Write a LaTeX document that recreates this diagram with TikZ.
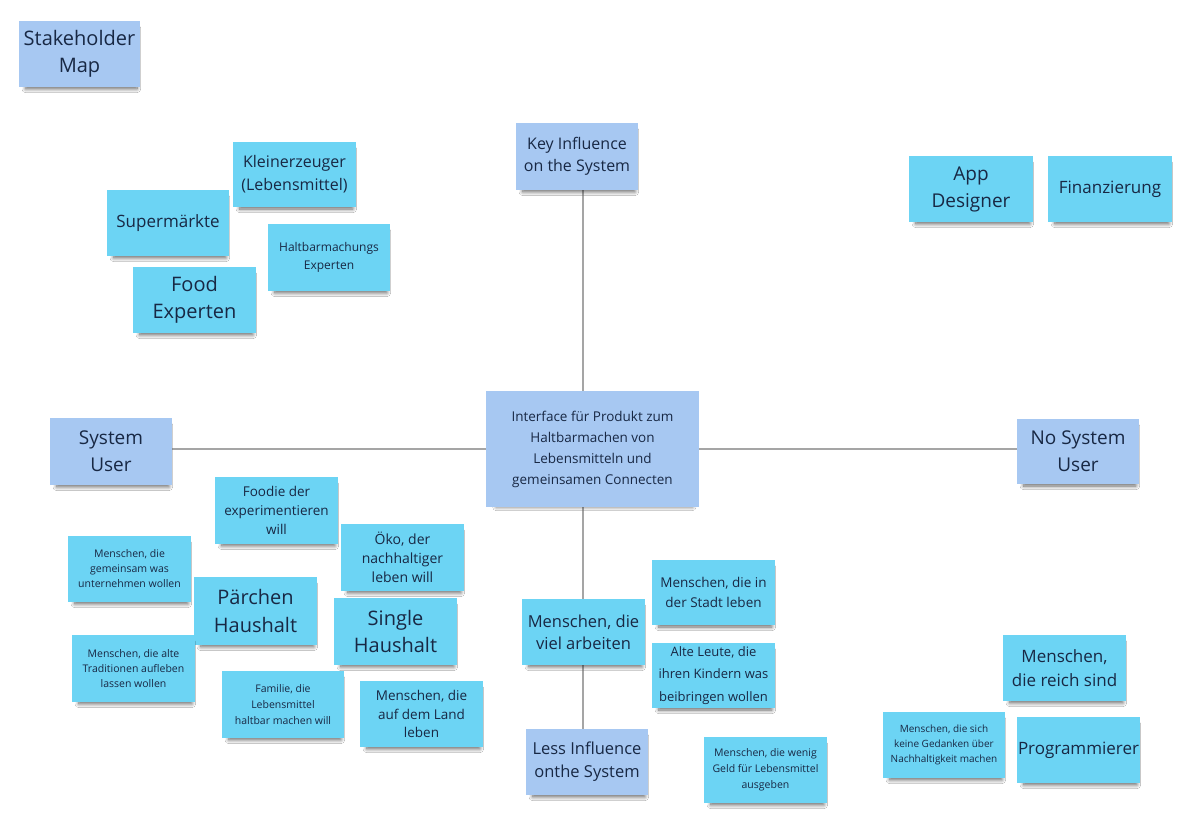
\documentclass[tikz,border=0pt]{standalone}
\usepackage{fontspec}
\setmainfont{Open Sans}
\usetikzlibrary{shadows.blur,backgrounds}
\definecolor{cyanstick}{RGB}{108,212,244}
\definecolor{bluestick}{RGB}{167,200,242}
\definecolor{inktext}{RGB}{24,40,68}
\definecolor{axisline}{RGB}{165,165,165}
\newcommand{\fs}[2]{\fontsize{#1}{#2}\selectfont}
\tikzset{
  stickybase/.style={draw=none, inner sep=0pt, align=center, text=inktext,
    blur shadow={shadow xshift=2pt, shadow yshift=-5pt, shadow scale=0.92,
      shadow blur radius=4pt, shadow blur steps=10, shadow opacity=60}},
  cyannote/.style={stickybase, fill=cyanstick},
  bluenote/.style={stickybase, fill=bluestick},
  axis/.style={draw=axisline, line width=1.2pt}
}
\begin{document}
\begin{tikzpicture}[x=1pt,y=-1pt]
\useasboundingbox (0,0) rectangle (1191,839);

\coordinate (vx) at (583,0);
\coordinate (hy) at (0,449);

% axis nodes
\node[bluenote, minimum width=122, minimum height=67, font=\fs{16}{22}] (key) at (577,156.5) {Key Influence\\on the System};
\node[bluenote, minimum width=122, minimum height=66, font=\fs{16.5}{23}] (less) at (587,762) {Less Influence\\onthe System};
\node[bluenote, minimum width=122, minimum height=67, font=\fs{19}{27}] (sysuser) at (111,451.5) {System\\User};
\node[bluenote, minimum width=122, minimum height=65, font=\fs{19}{27}] (nosys) at (1078,451.5) {No System\\User};

\node[bluenote, minimum width=213, minimum height=116, font=\fs{13.5}{21}] (central) at (592.5,449) {Interface für Produkt zum\\Haltbarmachen von\\Lebensmitteln und\\gemeinsamen Connecten};

\node[bluenote, minimum width=121, minimum height=66, font=\fs{20}{27}] (stake) at (79.5,54) {Stakeholder\\Map};

% top left
\node[cyannote, minimum width=123, minimum height=65, font=\fs{16}{23}] (klein) at (294.5,174.5) {Kleinerzeuger\\(Lebensmittel)};
\node[cyannote, minimum width=122, minimum height=66, font=\fs{17}{23}] (super) at (168,223) {Supermärkte};
\node[cyannote, minimum width=122, minimum height=67, font=\fs{12}{17.5}] (halt) at (329,257.5) {Haltbarmachungs\\Experten};
\node[cyannote, minimum width=123, minimum height=66, font=\fs{20}{27}] (food) at (194.5,300) {Food\\Experten};

% top right
\node[cyannote, minimum width=124, minimum height=66, font=\fs{19}{27}] (app) at (971,189) {App\\Designer};
\node[cyannote, minimum width=124, minimum height=66, font=\fs{17}{23}] (fin) at (1110,189) {Finanzierung};

% bottom left
\node[cyannote, minimum width=123, minimum height=67, font=\fs{13.5}{19}] (foodie) at (276.5,510.5) {Foodie der\\experimentieren\\will};
\node[cyannote, minimum width=123, minimum height=67, font=\fs{14}{19}] (oeko) at (402.5,557.5) {Öko, der\\nachhaltiger\\leben will};
\node[cyannote, minimum width=123, minimum height=66, font=\fs{10.5}{15}] (gemeinsam) at (129.5,569) {Menschen, die\\gemeinsam was\\unternehmen wollen};
\node[cyannote, minimum width=123, minimum height=68, font=\fs{20}{28}] (paerchen) at (255.5,611) {Pärchen\\Haushalt};
\node[cyannote, minimum width=123, minimum height=67, font=\fs{20}{27}] (single) at (395.5,631.5) {Single\\Haushalt};
\node[cyannote, minimum width=123, minimum height=67, font=\fs{10.5}{15}] (tradition) at (133.5,668.5) {Menschen, die alte\\Traditionen aufleben\\lassen wollen};
\node[cyannote, minimum width=122, minimum height=67, font=\fs{10.5}{16}] (familie) at (283,704.5) {Familie, die\\Lebensmittel\\haltbar machen will};
\node[cyannote, minimum width=123, minimum height=66, font=\fs{13.5}{18.5}] (land) at (421.5,714) {Menschen, die\\auf dem Land\\leben};

% bottom middle
\node[cyannote, minimum width=123, minimum height=66, font=\fs{16.5}{22}] (viel) at (583.5,632) {Menschen, die\\viel arbeiten};
\node[cyannote, minimum width=123, minimum height=65, font=\fs{13.5}{20}] (stadt) at (713.5,592.5) {Menschen, die in\\der Stadt leben};
\node[cyannote, minimum width=123, minimum height=65, font=\fs{13}{22.5}] (alteleute) at (713.5,675.5) {Alte Leute, die\\ihren Kindern was\\beibringen wollen};
\node[cyannote, minimum width=123, minimum height=66, font=\fs{10.5}{16}] (geld) at (765.5,770) {Menschen, die wenig\\Geld für Lebensmittel\\ausgeben};

% bottom right
\node[cyannote, minimum width=123, minimum height=66, font=\fs{17}{24}] (reich) at (1064.5,668) {Menschen,\\die reich sind};
\node[cyannote, minimum width=122, minimum height=66, font=\fs{10}{15}] (keine) at (944,745) {Menschen, die sich\\keine Gedanken über\\Nachhaltigkeit machen};
\node[cyannote, minimum width=123, minimum height=66, font=\fs{17}{23}] (prog) at (1078.5,750) {Programmierer};

\begin{scope}[on background layer]
\fill[white] (0,0) rectangle (1191,839);
\draw[axis] (key.south -| vx) -- (less.north -| vx);
\draw[axis] (sysuser.east |- hy) -- (nosys.west |- hy);
\end{scope}
\end{tikzpicture}
\end{document}
